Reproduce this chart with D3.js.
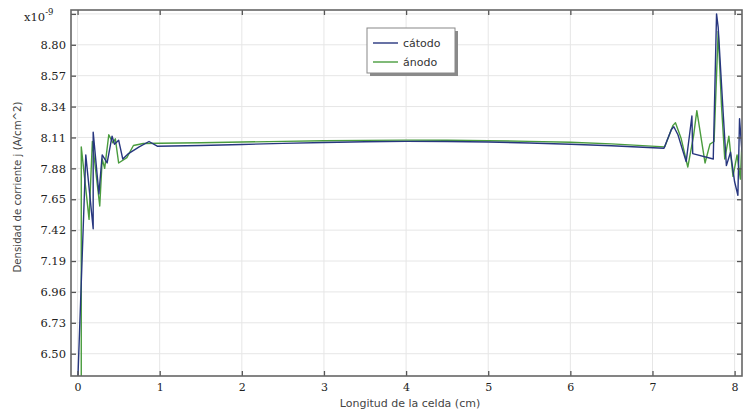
<!DOCTYPE html>
<html>
<head>
<meta charset="utf-8">
<script src="https://cdn.jsdelivr.net/npm/d3@7/dist/d3.min.js"></script>
<style>
  html, body { margin: 0; padding: 0; background: #fff; }
  svg { display: block; }
</style>
</head>
<body>
<svg id="chart" width="743" height="416"></svg>
<script>
// Current density along the cell, in units of 1e-9 A/cm^2
const seriesNames = ["cátodo", "ánodo"];

const xCatodo = [0.00, 0.10, 0.19, 0.19, 0.26, 0.30, 0.36, 0.42, 0.45, 0.50, 0.55, 0.62, 0.75, 0.87, 0.97,
  1.5, 2.0, 2.5, 3.0, 3.5, 4.0, 4.5, 5.0, 5.5, 6.0, 6.5,
  7.14, 7.23, 7.26, 7.31, 7.41, 7.48, 7.49, 7.74, 7.78, 7.80, 7.86, 7.90, 7.95, 8.00, 8.04, 8.06, 8.09];
const yCatodo = [6.25, 7.98, 7.43, 8.15, 7.69, 7.98, 7.92, 8.12, 8.06, 8.09, 7.95, 7.99, 8.04, 8.08, 8.045,
  8.050, 8.058, 8.066, 8.073, 8.078, 8.081, 8.080, 8.076, 8.069, 8.060, 8.048,
  8.03, 8.17, 8.19, 8.13, 7.93, 8.27, 7.99, 7.95, 9.03, 8.93, 8.30, 7.90, 8.00, 7.78, 7.68, 8.25, 8.00];

const xAnodo = [0.045, 0.045, 0.14, 0.18, 0.27, 0.30, 0.33, 0.38, 0.43, 0.46, 0.50, 0.60, 0.68, 0.80, 1.0,
  1.5, 2.0, 2.5, 3.0, 3.5, 4.0, 4.5, 5.0, 5.5, 6.0, 6.5,
  7.15, 7.25, 7.28, 7.35, 7.43, 7.50, 7.54, 7.64, 7.70, 7.75, 7.80, 7.84, 7.88, 7.93, 7.98, 8.03, 8.07, 8.09];
const yAnodo = [6.25, 8.04, 7.50, 8.08, 7.60, 7.95, 7.88, 8.13, 8.07, 8.10, 7.92, 7.96, 8.05, 8.065, 8.067,
  8.071, 8.076, 8.081, 8.085, 8.088, 8.090, 8.089, 8.086, 8.081, 8.074, 8.062,
  8.04, 8.20, 8.22, 8.10, 7.89, 8.12, 8.31, 7.92, 8.06, 8.08, 8.90, 8.35, 7.95, 8.12, 7.82, 7.98, 7.80, 8.08];

const xTicks = [0, 1, 2, 3, 4, 5, 6, 7, 8];
const yTicks = [6.50, 6.73, 6.96, 7.19, 7.42, 7.65, 7.88, 8.11, 8.34, 8.57, 8.80, 9.03];
const yTickLabels = ["6.50", "6.73", "6.96", "7.19", "7.42", "7.65", "7.88", "8.11", "8.34", "8.57", "8.80", ""];

const colors = { "cátodo": "#27367f", "ánodo": "#4a9c3e" };

const svg = d3.select("#chart");
const plot = { left: 71, right: 742, top: 10, bottom: 376 };

const x = d3.scaleLinear().domain([-0.08, 8.09]).range([plot.left, plot.right]);
const y = d3.scaleLinear().domain([6.334, 9.059]).range([plot.bottom, plot.top]);

// grid
const grid = svg.append("g");
grid.selectAll("line.gx").data(xTicks).enter().append("line")
  .attr("x1", d => x(d)).attr("x2", d => x(d))
  .attr("y1", plot.top).attr("y2", plot.bottom)
  .attr("stroke", "#e6e6e6").attr("stroke-width", 1);
grid.selectAll("line.gy").data(yTicks).enter().append("line")
  .attr("x1", plot.left).attr("x2", plot.right)
  .attr("y1", d => y(d)).attr("y2", d => y(d))
  .attr("stroke", "#e6e6e6").attr("stroke-width", 1);

// data lines
svg.append("clipPath").attr("id", "plotclip").append("rect")
  .attr("x", plot.left).attr("y", plot.top)
  .attr("width", plot.right - plot.left).attr("height", plot.bottom - plot.top);

const line = d3.line().x(d => x(d[0])).y(d => y(d[1]));
const series = [
  { name: "ánodo", pts: d3.zip(xAnodo, yAnodo) },
  { name: "cátodo", pts: d3.zip(xCatodo, yCatodo) }
];
svg.append("g").attr("clip-path", "url(#plotclip)")
  .selectAll("path").data(series).enter().append("path")
  .attr("d", d => line(d.pts))
  .attr("fill", "none")
  .attr("stroke", d => colors[d.name])
  .attr("stroke-width", 1.4)
  .attr("stroke-linejoin", "round");

// axes with inward ticks on all four sides
const tickStyle = g => {
  g.select(".domain").remove();
  g.selectAll(".tick line").attr("stroke", "#555").attr("stroke-width", 1.3);
};
svg.append("g").attr("transform", `translate(0,${plot.bottom})`)
  .call(d3.axisBottom(x).tickValues(xTicks).tickSizeInner(-5).tickSizeOuter(0).tickPadding(7).tickFormat(d3.format("d")))
  .call(tickStyle)
  .call(g => g.selectAll("text").attr("font-family", "DejaVu Serif").attr("font-size", 11).attr("fill", "#222"));
svg.append("g").attr("transform", `translate(0,${plot.top})`)
  .call(d3.axisTop(x).tickValues(xTicks).tickSizeInner(-5).tickSizeOuter(0).tickFormat(""))
  .call(tickStyle);
svg.append("g").attr("transform", `translate(${plot.left},0)`)
  .call(d3.axisLeft(y).tickValues(yTicks).tickSizeInner(-5).tickSizeOuter(0).tickPadding(5)
    .tickFormat((d, i) => yTickLabels[i]))
  .call(tickStyle)
  .call(g => g.selectAll("text").attr("font-family", "DejaVu Serif").attr("font-size", 11.5).attr("fill", "#222"));
svg.append("g").attr("transform", `translate(${plot.right},0)`)
  .call(d3.axisRight(y).tickValues(yTicks).tickSizeInner(-5).tickSizeOuter(0).tickFormat(""))
  .call(tickStyle);

// frame
svg.append("rect")
  .attr("x", plot.left).attr("y", plot.top)
  .attr("width", plot.right - plot.left).attr("height", plot.bottom - plot.top)
  .attr("fill", "none").attr("stroke", "#666").attr("stroke-width", 1.6);

// exponent
const expo = svg.append("text").attr("x", 24).attr("y", 21)
  .attr("font-family", "DejaVu Serif").attr("font-size", 11.5).attr("fill", "#222");
expo.append("tspan").text("x10");
expo.append("tspan").attr("dy", -6).attr("font-size", 8.5).text("-9");

// axis titles
svg.append("text").attr("x", 410).attr("y", 407).attr("text-anchor", "middle")
  .attr("font-family", "DejaVu Sans").attr("font-size", 11).attr("fill", "#444")
  .text("Longitud de la celda (cm)");
svg.append("text").attr("transform", "translate(21,187) rotate(-90)").attr("text-anchor", "middle")
  .attr("font-family", "DejaVu Sans").attr("font-size", 10.2).attr("fill", "#444")
  .text("Densidad de corriente j (A/cm^2)");

// legend
const lg = svg.append("g").attr("transform", "translate(367,28)");
lg.append("rect").attr("x", 3).attr("y", 3).attr("width", 88).attr("height", 45).attr("fill", "#8a8a8a");
lg.append("rect").attr("width", 88).attr("height", 45).attr("fill", "#fff").attr("stroke", "#888").attr("stroke-width", 1);
const items = lg.selectAll("g.item").data(seriesNames).enter().append("g")
  .attr("transform", (d, i) => `translate(0,${15 + i * 19})`);
items.append("line").attr("x1", 6).attr("x2", 31).attr("y1", 0).attr("y2", 0)
  .attr("stroke", d => colors[d]).attr("stroke-width", 1.4);
items.append("text").attr("x", 36).attr("y", 4)
  .attr("font-family", "DejaVu Sans").attr("font-size", 11).attr("fill", "#333")
  .text(d => d);
</script>
</body>
</html>
